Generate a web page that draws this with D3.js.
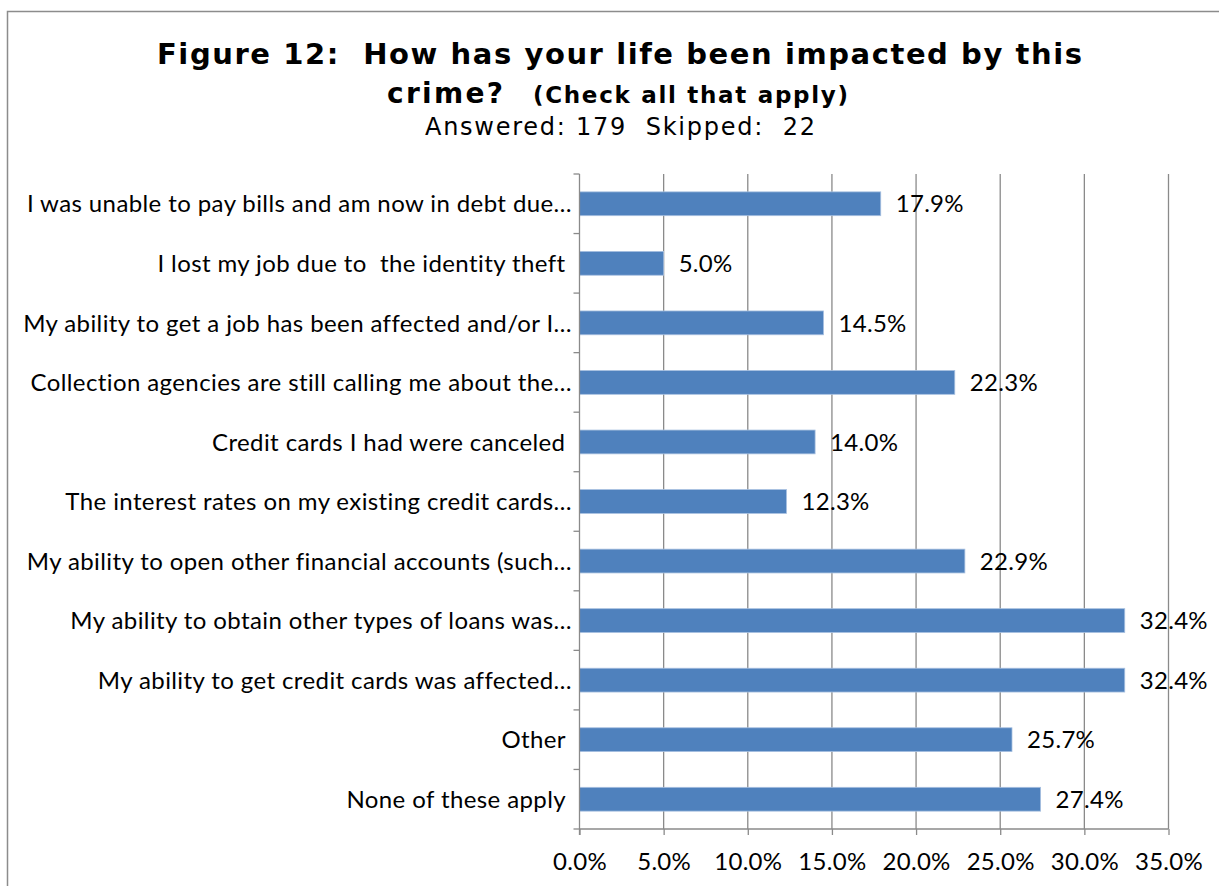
<!DOCTYPE html>
<html>
<head>
<meta charset="utf-8">
<script src="https://cdn.jsdelivr.net/npm/d3@7"></script>
<style>
  html, body { margin: 0; padding: 0; background: #fff; }
  svg text { white-space: pre; }
</style>
</head>
<body>
<svg id="chart" width="1219" height="886"></svg>
<script>
// Survey responses (percent of respondents), top to bottom
const categories = [
  "I was unable to pay bills and am now in debt due\u2026",
  "I lost my job due to  the identity theft ",
  "My ability to get a job has been affected and/or I\u2026",
  "Collection agencies are still calling me about the\u2026",
  "Credit cards I had were canceled ",
  "The interest rates on my existing credit cards\u2026",
  "My ability to open other financial accounts (such\u2026",
  "My ability to obtain other types of loans was\u2026",
  "My ability to get credit cards was affected\u2026",
  "Other ",
  "None of these apply "
];
const values = [17.9, 5.0, 14.5, 22.3, 14.0, 12.3, 22.9, 32.4, 32.4, 25.7, 27.4];
const xTicks = [0, 5, 10, 15, 20, 25, 30, 35];
const titleLine1 = "Figure 12:  How has your life been impacted by this";
const titleLine2a = "crime?";
const titleLine2b = "(Check all that apply)";
const subtitle = "Answered: 179  Skipped:  22";

const svg = d3.select("#chart");
const labelFont = "Lato, 'Open Sans', sans-serif";
const titleFont = "'DejaVu Sans', Verdana, sans-serif";

// frame
svg.append("path")
  .attr("d", "M7.5,886 V11.5 H1219")
  .attr("fill", "none").attr("stroke", "#8c8c8c").attr("stroke-width", 1.5);

// titles (spread to their set widths)
function titleText(str, x0, width, baseline, size, weight) {
  svg.append("text").attr("x", x0).attr("y", baseline)
    .attr("font-family", titleFont).attr("font-weight", weight)
    .attr("font-size", size).attr("fill", "#000")
    .attr("textLength", width).attr("lengthAdjust", "spacing")
    .text(str);
}
titleText(titleLine1, 157, 925, 63.5, 29, "bold");
titleText(titleLine2a, 387, 116, 102.5, 28, "bold");
titleText(titleLine2b, 533, 315, 102.5, 23, "bold");
titleText(subtitle, 425, 390, 134.5, 24, "normal");

// scales
const x = d3.scaleLinear().domain([0, 35]).range([579.5, 1168.5]);
const y = d3.scaleBand().domain(categories).range([174, 829])
  .paddingInner(0.6).paddingOuter(0.3);

const grid = "#8a8a8a";

// vertical gridlines
svg.append("g").selectAll("line").data(xTicks.filter(d => d > 0)).join("line")
  .attr("x1", d => x(d)).attr("x2", d => x(d))
  .attr("y1", 174).attr("y2", 829)
  .attr("stroke", grid).attr("stroke-width", 1.3);

// bars
svg.append("g").selectAll("rect").data(values).join("rect")
  .attr("x", x(0))
  .attr("y", (d, i) => y(categories[i]))
  .attr("width", d => x(d) - x(0))
  .attr("height", y.bandwidth())
  .attr("fill", "#4f81bd")
  .attr("stroke", "#a7c0e0").attr("stroke-width", 0.8);

// value labels
svg.append("g").selectAll("text").data(values).join("text")
  .attr("x", d => x(d) + 15)
  .attr("y", (d, i) => y(categories[i]) + y.bandwidth() / 2)
  .attr("dy", "0.36em")
  .attr("font-family", labelFont).attr("font-size", 24)
  .attr("letter-spacing", 0.3).attr("fill", "#000")
  .text(d => d.toFixed(1) + "%");

// bottom axis
const xAxis = d3.axisBottom(x).tickValues(xTicks)
  .tickFormat(d => d.toFixed(1) + "%").tickSize(6).tickPadding(18);
const gx = svg.append("g").attr("transform", "translate(0,829)").call(xAxis);
gx.select(".domain").attr("stroke", grid).attr("stroke-width", 1.3)
  .attr("d", `M${x(0)},0H${x(35)}`);
gx.selectAll(".tick line").attr("stroke", grid).attr("stroke-width", 1.3);
gx.selectAll(".tick text").attr("font-family", labelFont).attr("font-size", 24)
  .attr("letter-spacing", 0.3).attr("fill", "#000");

// left axis: tick marks at category boundaries
const step = y.step();
const bounds = d3.range(categories.length + 1).map(i => 174 + i * step);
const gy = svg.append("g");
gy.append("line").attr("x1", x(0)).attr("x2", x(0)).attr("y1", 174).attr("y2", 835)
  .attr("stroke", grid).attr("stroke-width", 1.3);
gy.selectAll("line.tk").data(bounds).join("line").attr("class", "tk")
  .attr("x1", x(0) - 6).attr("x2", x(0)).attr("y1", d => d).attr("y2", d => d)
  .attr("stroke", grid).attr("stroke-width", 1.3);

// category labels
svg.append("g").selectAll("text").data(categories).join("text")
  .attr("x", 572)
  .attr("y", d => y(d) + y.bandwidth() / 2)
  .attr("dy", "0.36em")
  .attr("text-anchor", "end")
  .attr("font-family", labelFont).attr("font-size", 24)
  .attr("letter-spacing", 0.4).attr("fill", "#000")
  .text(d => d);
</script>
</body>
</html>
